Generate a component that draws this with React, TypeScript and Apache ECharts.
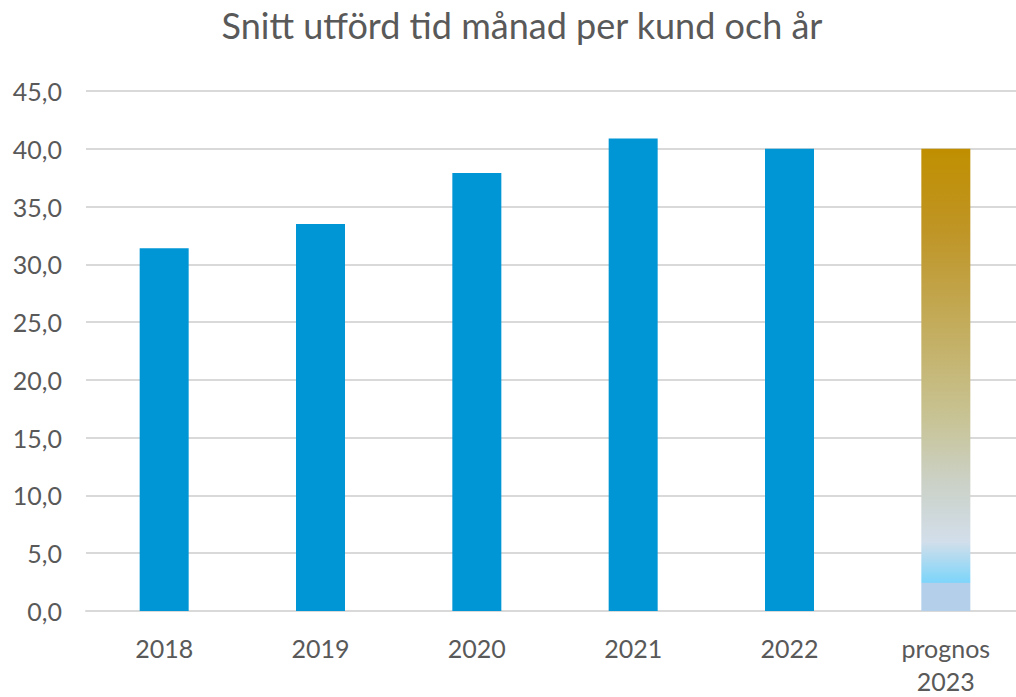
import React, { useEffect, useRef } from "react";
import * as echarts from "echarts";

const categories = ["2018", "2019", "2020", "2021", "2022", "prognos\n2023"];
const values = [31.4, 33.5, 37.9, 40.9, 40.0, 40.0];
const titleText = "Snitt utförd tid månad per kund och år";

export default function App() {
  const ref = useRef<HTMLDivElement>(null);
  useEffect(() => {
    if (!ref.current) return;
    const chart = echarts.init(ref.current, null, { renderer: "svg" });
    const font = "Lato, 'DejaVu Sans', sans-serif";
    const gradient = new echarts.graphic.LinearGradient(0, 0, 0, 1, [
      { offset: 0, color: "#C08F00" },
      { offset: 0.18, color: "#BF9526" },
      { offset: 0.39, color: "#C3AD5E" },
      { offset: 0.59, color: "#C8C497" },
      { offset: 0.72, color: "#CBD1C6" },
      { offset: 0.85, color: "#D2DEEA" },
      { offset: 0.938, color: "#7DD5FA" },
      { offset: 0.94, color: "#B3CFEA" },
      { offset: 1, color: "#B3CFEA" },
    ]);
    chart.setOption({
      animation: false,
      backgroundColor: "#ffffff",
      title: {
        text: titleText,
        left: 517,
        textAlign: "center",
        top: 2,
        textStyle: {
          fontFamily: font,
          fontSize: 36,
          fontWeight: "normal",
          color: "#595959",
        },
      },
      grid: { left: 86, right: 0, top: 91, bottom: 86, containLabel: false },
      xAxis: {
        type: "category",
        data: categories,
        axisLine: { lineStyle: { color: "#D9D9D9", width: 2 } },
        axisTick: { show: false },
        axisLabel: {
          fontFamily: font,
          fontSize: 25,
          color: "#595959",
          margin: 20,
          lineHeight: 33,
        },
      },
      yAxis: {
        type: "value",
        min: 0,
        max: 45,
        interval: 5,
        axisLine: { show: false },
        axisTick: { show: false },
        splitLine: { lineStyle: { color: "#D9D9D9", width: 2 } },
        axisLabel: {
          fontFamily: font,
          fontSize: 25,
          color: "#595959",
          margin: 24,
          formatter: (v: number) => v.toFixed(1).replace(".", ","),
        },
      },
      series: [
        {
          type: "bar",
          barWidth: 49,
          data: values.map((v, i) =>
            i === values.length - 1
              ? { value: v, itemStyle: { color: gradient } }
              : { value: v, itemStyle: { color: "#0096D6" } }
          ),
        },
      ],
    });
    return () => chart.dispose();
  }, []);
  return (
    <div
      style={{
        position: "fixed",
        left: 0,
        top: 0,
        width: 1016,
        height: 697,
        overflow: "hidden",
      }}
    >
      <div ref={ref} style={{ width: 1024, height: 697 }} />
    </div>
  );
}
